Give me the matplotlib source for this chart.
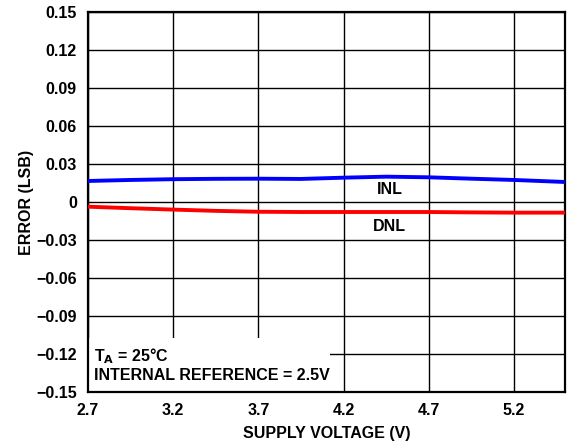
import matplotlib
matplotlib.use("Agg")
from matplotlib import pyplot as plt

#
# Data
#

supply_voltage = [2.7, 2.95, 3.2, 3.45, 3.7, 3.95, 4.2, 4.45, 4.7, 4.95, 5.2, 5.5]
inl_error = [0.0166, 0.0174, 0.0180, 0.0183, 0.0184, 0.0182, 0.0192, 0.0200, 0.0195, 0.0184, 0.0174, 0.0158]
dnl_error = [-0.0037, -0.0049, -0.0060, -0.0070, -0.0077, -0.0079, -0.0079, -0.0079, -0.0079, -0.0082, -0.0084, -0.0084]

x_ticks = [2.7, 3.2, 3.7, 4.2, 4.7, 5.2]
y_ticks = [-0.15, -0.12, -0.09, -0.06, -0.03, 0, 0.03, 0.06, 0.09, 0.12, 0.15]
y_tick_labels = ["\u22120.15", "\u22120.12", "\u22120.09", "\u22120.06", "\u22120.03", "0",
                 "0.03", "0.06", "0.09", "0.12", "0.15"]

plt.rcParams["font.family"] = ["Liberation Sans", "DejaVu Sans"]
plt.rcParams["font.weight"] = "bold"
plt.rcParams["mathtext.default"] = "bf"

FS = 11.5

fig = plt.figure(figsize=(5.72, 4.44), dpi=100)
ax = fig.add_axes([88 / 572, 1 - 392 / 444, (565 - 88) / 572, (392 - 12) / 444])

# Curves
ax.plot(supply_voltage, inl_error, color="#0000ff", linewidth=2.8, zorder=3)
ax.plot(supply_voltage, dnl_error, color="#ff0000", linewidth=2.8, zorder=3)

ax.set_xlim(2.7, 5.5)
ax.set_ylim(-0.15, 0.15)
ax.set_xticks(x_ticks)
ax.set_xticklabels([f"{v:.1f}" for v in x_ticks])
ax.set_yticks(y_ticks)
ax.set_yticklabels(y_tick_labels)
ax.tick_params(length=0, labelsize=FS, pad=8)
for lbl in ax.get_xticklabels() + ax.get_yticklabels():
	lbl.set_fontweight("bold")

ax.grid(True, color="black", linewidth=1.0, zorder=1)
ax.set_axisbelow(True)
for sp in ax.spines.values():
	sp.set_linewidth(1.6)

ax.set_xlabel("SUPPLY VOLTAGE (V)", fontsize=FS, fontweight="bold")
ax.set_ylabel("ERROR (LSB)", fontsize=FS, fontweight="bold")
ax.xaxis.set_label_coords(0.5, -(433 - 392) / 380, transform=ax.transAxes)
ax.xaxis.label.set_va("center")
ax.yaxis.set_label_coords(-(88 - 27) / 477, 0.5, transform=ax.transAxes)
ax.yaxis.label.set_va("center")

# Curve labels
ax.text(4.47, 0.0095, "INL", fontsize=FS, fontweight="bold", ha="center", va="center", zorder=4)
ax.text(4.47, -0.019, "DNL", fontsize=FS, fontweight="bold", ha="center", va="center", zorder=4)

# White box with conditions (covers the grid)
ax.add_patch(plt.Rectangle((2.7, -0.15), 1.42, 0.0425, transform=ax.transData,
                           facecolor="white", edgecolor="none", zorder=2))
ax.text(2.735, -0.1215, r"T$_\mathbf{A}$ = 25°C", fontsize=FS, fontweight="bold",
        ha="left", va="center", zorder=4)
ax.text(2.735, -0.137, "INTERNAL REFERENCE = 2.5V", fontsize=FS, fontweight="bold",
        ha="left", va="center", zorder=4)

plt.savefig("out.png", dpi=100)
